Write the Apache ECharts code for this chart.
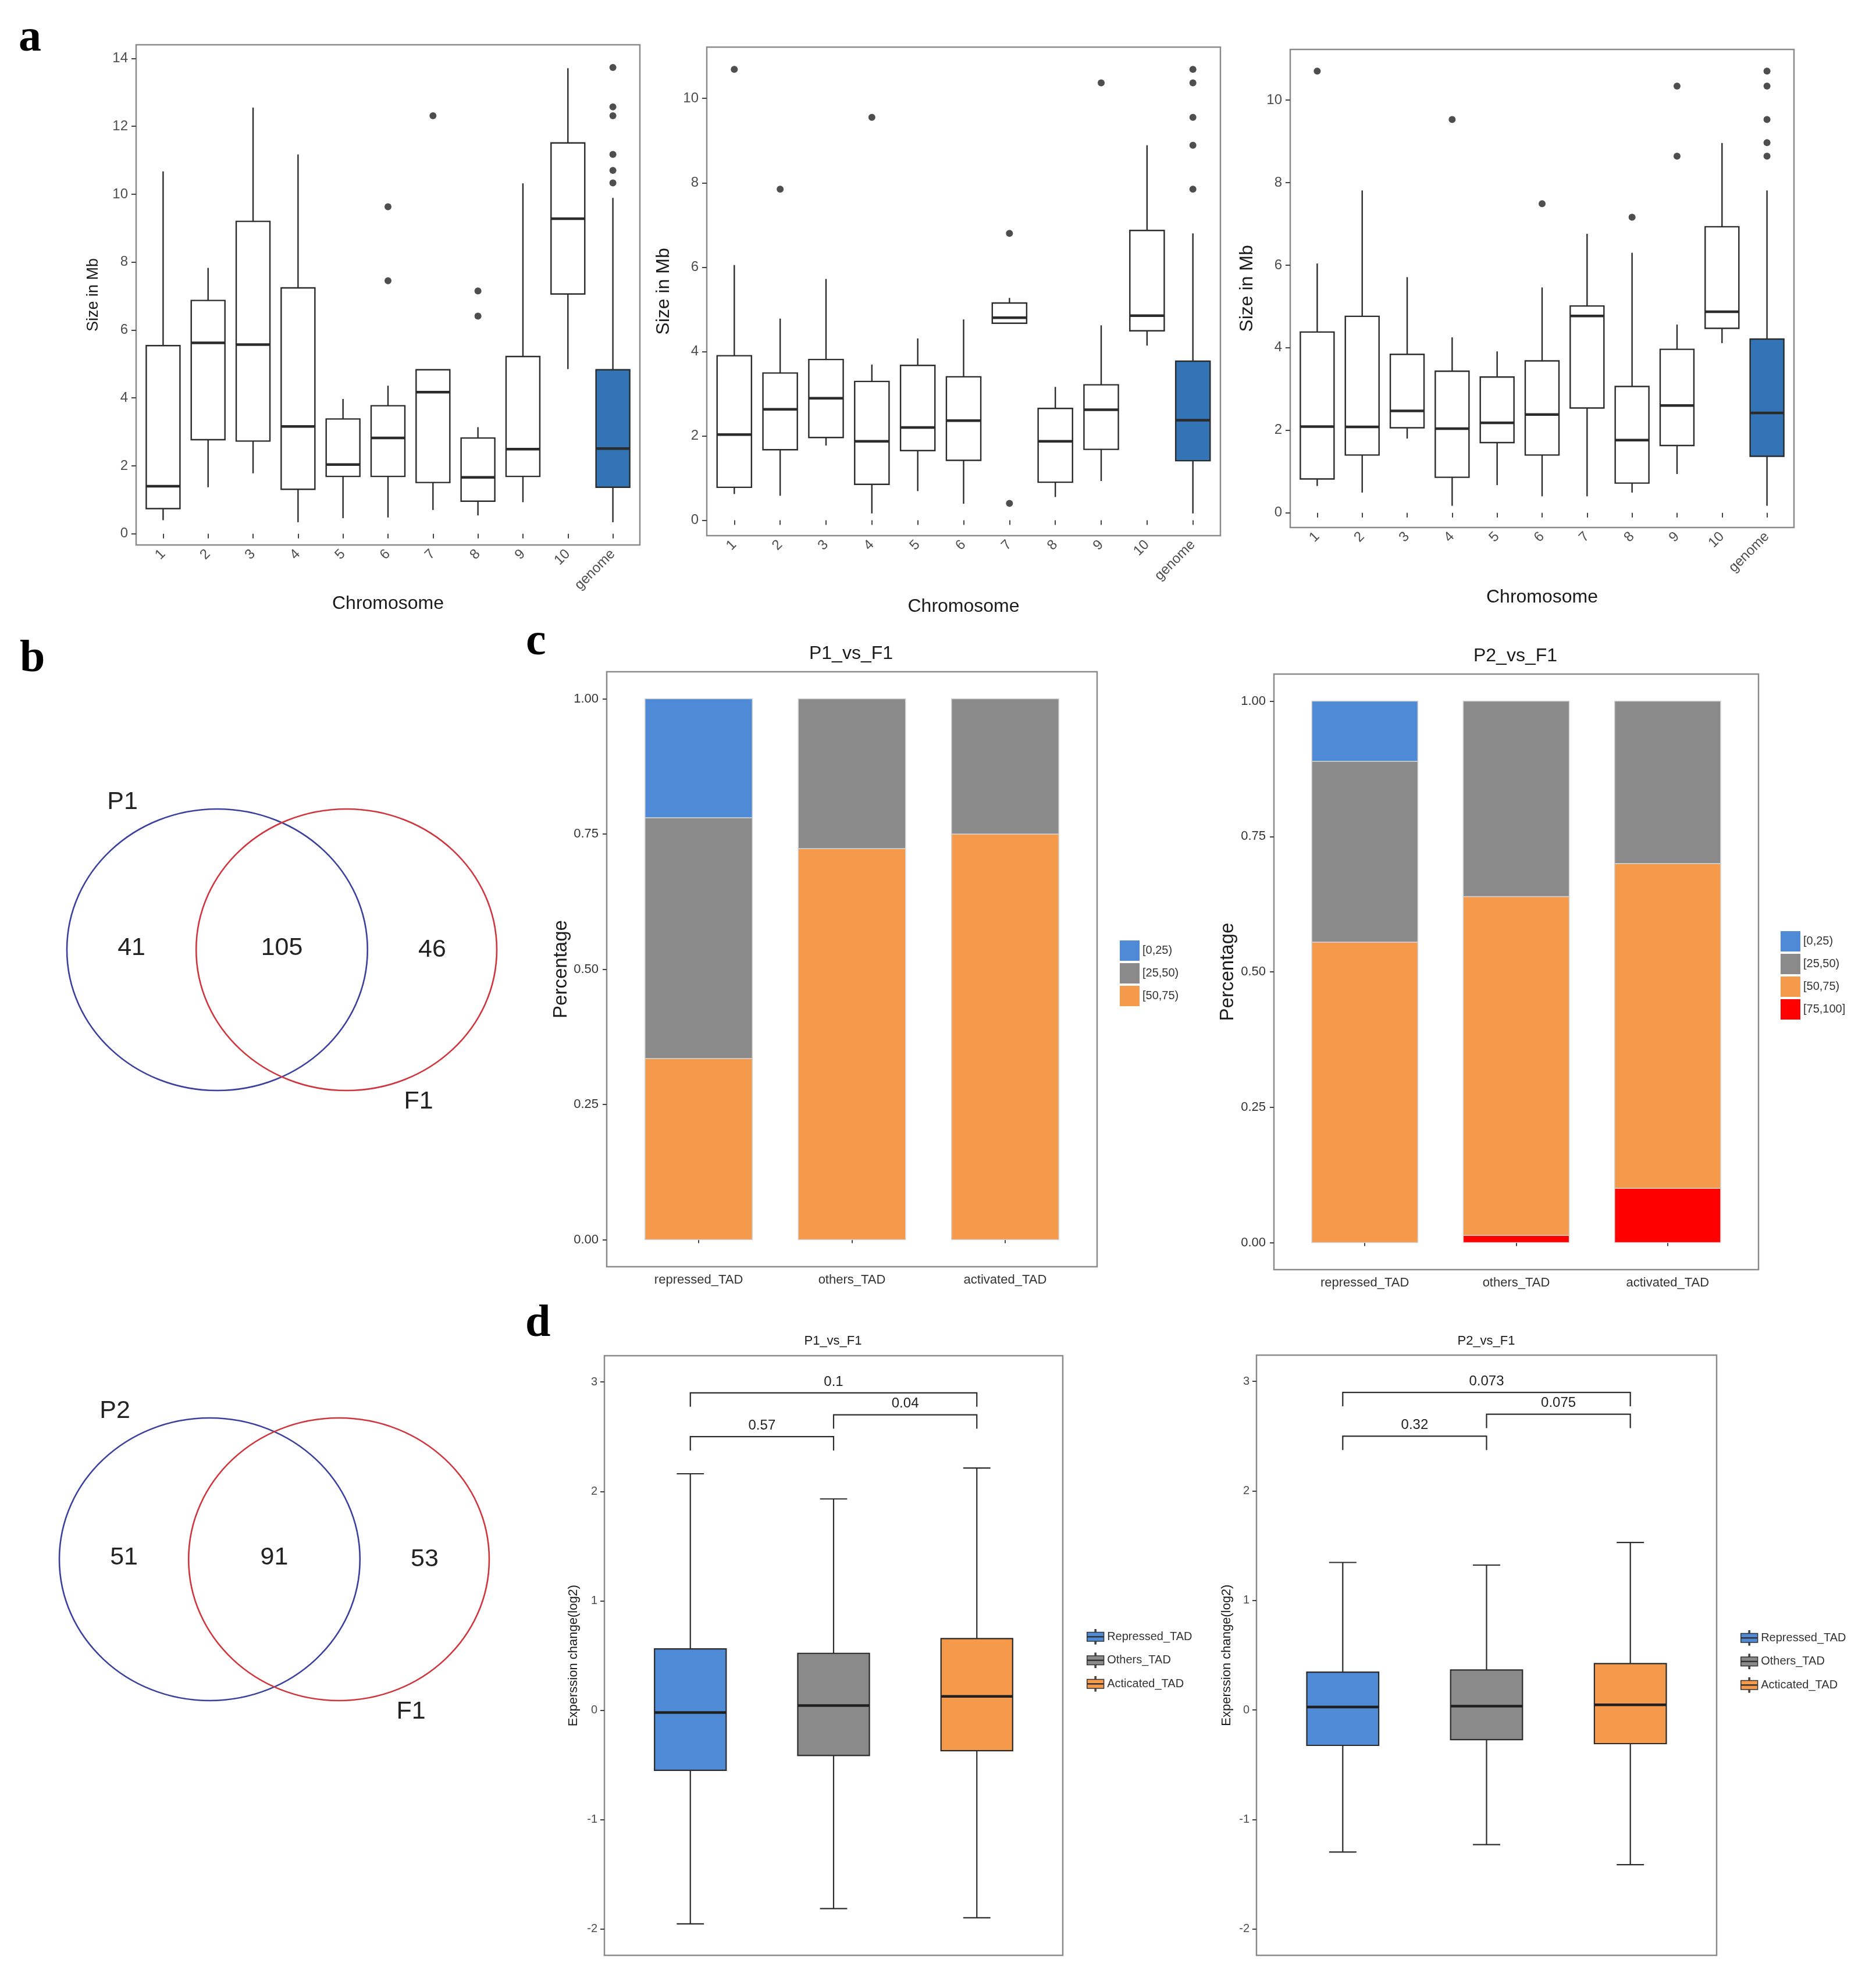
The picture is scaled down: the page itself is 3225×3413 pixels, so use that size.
<!DOCTYPE html>
<html><head><meta charset="utf-8">
<script src="https://cdn.jsdelivr.net/npm/echarts@6/dist/echarts.min.js"></script>
<style>html,body{margin:0;padding:0;background:#fff}#c{width:3225px;height:3413px}</style>
</head><body><div id="c"></div>
<script>
// ---------------- DATA ----------------
const chrCats = ['1','2','3','4','5','6','7','8','9','10','genome'];
// box stats per chromosome: [lower whisker, Q1, median, Q3, upper whisker]
const a1Box = [[0.40,0.74,1.40,5.54,10.67],[1.37,2.77,5.62,6.87,7.83],[1.78,2.73,5.57,9.20,12.55],[0.34,1.31,3.16,7.24,11.17],
  [0.46,1.69,2.04,3.38,3.97],[0.48,1.69,2.82,3.77,4.36],[0.70,1.51,4.17,4.83,4.83],[0.54,0.96,1.66,2.82,3.14],
  [0.93,1.69,2.49,5.22,10.32],[4.85,7.06,9.28,11.51,13.71],[0.34,1.37,2.51,4.83,9.89]];
const a1Out = [['6',9.63],['6',7.45],['7',12.31],['8',7.15],['8',6.41],['genome',13.73],['genome',12.57],['genome',12.31],['genome',11.17],['genome',10.70],['genome',10.33]];
const a2Box = [[0.62,0.78,2.03,3.90,6.05],[0.58,1.67,2.63,3.49,4.78],[1.77,1.96,2.89,3.81,5.72],[0.16,0.85,1.87,3.29,3.69],
  [0.69,1.65,2.20,3.67,4.31],[0.39,1.42,2.36,3.40,4.76],[4.67,4.67,4.80,5.15,5.27],[0.55,0.90,1.87,2.65,3.16],
  [0.93,1.68,2.62,3.21,4.62],[4.14,4.49,4.85,6.87,8.89],[0.16,1.41,2.37,3.77,6.80]];
const a2Out = [['1',10.69],['2',7.85],['4',9.55],['7',6.80],['7',0.40],['9',10.37],['genome',10.69],['genome',10.37],['genome',9.55],['genome',8.89],['genome',7.85]];
const a3Box = [[0.65,0.82,2.09,4.38,6.04],[0.49,1.40,2.08,4.76,7.81],[1.80,2.06,2.47,3.84,5.71],[0.17,0.86,2.04,3.43,4.25],
  [0.67,1.70,2.18,3.29,3.91],[0.40,1.40,2.38,3.68,5.46],[0.40,2.54,4.77,5.01,6.76],[0.49,0.72,1.76,3.06,6.30],
  [0.94,1.63,2.60,3.96,4.56],[4.11,4.47,4.87,6.93,8.96],[0.17,1.37,2.42,4.21,7.81]];
const a3Out = [['1',10.70],['4',9.53],['6',7.49],['8',7.16],['9',10.34],['9',8.64],['genome',10.70],['genome',10.34],['genome',9.53],['genome',8.97],['genome',8.64]];
const aYTicks1 = [0,2,4,6,8,10,12,14];
const aYTicks23 = [0,2,4,6,8,10];

const vennSets1 = ['P1','F1'];
const vennCounts1 = [41,105,46];
const vennSets2 = ['P2','F1'];
const vennCounts2 = [51,91,53];

const cCats = ['repressed_TAD','others_TAD','activated_TAD'];
const cLevels = ['[0,25)','[25,50)','[50,75)','[75,100]'];
const c1Bin0 = [0.220,0,0];
const c1Bin1 = [0.445,0.277,0.250];
const c1Bin2 = [0.335,0.723,0.750];
const c2Bin0 = [0.111,0,0];
const c2Bin1 = [0.334,0.361,0.300];
const c2Bin2 = [0.555,0.626,0.600];
const c2Bin3 = [0,0.013,0.100];
const cYTicks = [0,0.25,0.5,0.75,1];

const dCats = ['Repressed_TAD','Others_TAD','Acticated_TAD'];
const d1Stats = [[-1.952,-0.549,-0.021,0.560,2.161],[-1.813,-0.414,0.043,0.520,1.931],[-1.897,-0.370,0.126,0.655,2.213]];
const d2Stats = [[-1.297,-0.323,0.027,0.345,1.347],[-1.229,-0.271,0.035,0.365,1.323],[-1.412,-0.307,0.047,0.424,1.529]];
const dPairs = [[1,2],[2,3],[1,3]];
const d1PVals = ['0.57','0.04','0.1'];
const d2PVals = ['0.32','0.075','0.073'];
const dYTicks = [-2,-1,0,1,2,3];

// ---------------- STYLE ----------------
const FONT = '"Liberation Sans", Arial, sans-serif';
const GENOME_BLUE = '#3274B5';
const binColors = ['#4F8AD6','#8A8A8A','#F5994A','#FF0000'];
const dColors = ['#4F8AD6','#8A8A8A','#F5994A'];
const BORDER = '#8a8a8a';
const INK = '#2b2b2b';

const grids = [
  {left:234, top:77, width:866, height:860},    // a1
  {left:1215, top:81, width:883, height:840},   // a2
  {left:2218, top:85, width:866, height:822},   // a3
  {left:1043, top:1155, width:843, height:1023},// c1
  {left:2190, top:1159, width:833, height:1024},// c2
  {left:1039, top:2331, width:788, height:1031},// d1
  {left:2160, top:2330, width:791, height:1032},// d2
  {left:115, top:1391, width:739, height:484},  // venn1
  {left:102, top:2438, width:739, height:486}   // venn2
].map((g,i)=>Object.assign({show:i<7, borderColor:BORDER, borderWidth:2.5, backgroundColor:'transparent'}, g));

// ---------------- HELPERS ----------------
function yRange(stats, outs){
  const vals = stats.flat().concat(outs.map(o=>o[1]));
  const lo = Math.min(...vals), hi = Math.max(...vals), pad = (hi-lo)*0.05;
  return [lo-pad, hi+pad];
}
const chrTicks = chrCats.map((c,i)=>i+1);
function renderBoxA(params, api){
  const x=api.value(0), lo=api.value(1), q1=api.value(2), med=api.value(3), q3=api.value(4), hi=api.value(5);
  const hw=0.375;
  const pL=api.coord([x-hw,q3]), pR=api.coord([x+hw,q1]);
  const xc=api.coord([x,lo])[0], ylo=api.coord([x,lo])[1], yhi=api.coord([x,hi])[1], ymed=api.coord([x,med])[1];
  const fill = chrCats[x-1]==='genome' ? GENOME_BLUE : '#ffffff';
  const st={stroke:INK, lineWidth:2.4};
  return {type:'group', children:[
    {type:'line', shape:{x1:xc,y1:yhi,x2:xc,y2:pL[1]}, style:st},
    {type:'line', shape:{x1:xc,y1:pR[1],x2:xc,y2:ylo}, style:st},
    {type:'rect', shape:{x:pL[0],y:pL[1],width:pR[0]-pL[0],height:pR[1]-pL[1]}, style:{fill:fill, stroke:INK, lineWidth:2.4}},
    {type:'line', shape:{x1:pL[0],y1:ymed,x2:pR[0],y2:ymed}, style:{stroke:INK, lineWidth:4.5}}
  ]};
}
function aX(gi, nameGap){
  return {gridIndex:gi, type:'value', min:0.4, max:11.6, splitLine:{show:false}, axisLine:{show:false},
    axisTick:{show:true, length:8, customValues:chrTicks, lineStyle:{color:'#444', width:2}},
    axisLabel:{customValues:chrTicks, formatter:v=>chrCats[Math.round(v)-1], rotate:45, fontSize:24, color:'#4D4D4D', margin:12, fontFamily:FONT},
    name:'Chromosome', nameLocation:'middle', nameGap:nameGap, nameTextStyle:{fontSize:32, color:'#1a1a1a', fontFamily:FONT}};
}
function aY(gi, range, ticks, nameSize, nameGap){
  return {gridIndex:gi, type:'value', min:range[0], max:range[1], splitLine:{show:false}, axisLine:{show:false},
    axisTick:{show:true, length:8, customValues:ticks, lineStyle:{color:'#444', width:2}},
    axisLabel:{customValues:ticks, fontSize:24, color:'#4D4D4D', margin:14, fontFamily:FONT},
    name:'Size in Mb', nameLocation:'middle', nameGap:nameGap, nameTextStyle:{fontSize:nameSize, color:'#1a1a1a', fontFamily:FONT}};
}
function aSeries(gi, stats, outs){
  return [
    {type:'custom', xAxisIndex:gi, yAxisIndex:gi, renderItem:renderBoxA, data:stats.map((s,i)=>[i+1].concat(s)), z:2},
    {type:'scatter', xAxisIndex:gi, yAxisIndex:gi, symbolSize:12, itemStyle:{color:'#222'}, z:3,
      data:outs.map(o=>[chrCats.indexOf(o[0])+1, o[1]])}
  ];
}
function renderBar(params, api){
  const x=api.value(0), b=api.value(1), t=api.value(2), hw=0.35;
  const p1=api.coord([x-hw,t]), p2=api.coord([x+hw,b]);
  return {type:'rect', shape:{x:p1[0],y:p1[1],width:p2[0]-p1[0],height:p2[1]-p1[1]},
    style:{fill:api.visual('color'), stroke:'#d2d2d2', lineWidth:1.5}};
}
function stackSeries(gi, bins){
  const base = cCats.map(()=>0);
  const out=[];
  for(let k=bins.length-1;k>=0;k--){
    const data=[];
    bins[k].forEach((v,i)=>{ if(v>0){ data.push([i+1, base[i], base[i]+v]); base[i]+=v; } });
    out.push({type:'custom', name:cLevels[k], xAxisIndex:gi, yAxisIndex:gi, itemStyle:{color:binColors[k]}, renderItem:renderBar, data});
  }
  return out;
}
function cX(gi){
  return {gridIndex:gi, type:'value', min:0.4, max:3.6, splitLine:{show:false}, axisLine:{show:false},
    axisTick:{show:true, length:6, customValues:[1,2,3], lineStyle:{color:'#444', width:2}},
    axisLabel:{customValues:[1,2,3], formatter:v=>cCats[Math.round(v)-1], fontSize:22, color:'#333', margin:12, fontFamily:FONT}};
}
function cY(gi, gap){
  return {gridIndex:gi, type:'value', min:-0.05, max:1.05, splitLine:{show:false}, axisLine:{show:false},
    axisTick:{show:true, length:7, customValues:cYTicks, lineStyle:{color:'#444', width:2}},
    axisLabel:{customValues:cYTicks, formatter:v=>v.toFixed(2), fontSize:22, color:'#333', margin:14, fontFamily:FONT},
    name:'Percentage', nameLocation:'middle', nameGap:gap, nameTextStyle:{fontSize:33, color:'#1a1a1a', fontFamily:FONT}};
}
function renderBoxD(params, api){
  const x=api.value(0), lo=api.value(1), q1=api.value(2), med=api.value(3), q3=api.value(4), hi=api.value(5);
  const hw=0.25, cw=0.095;
  const pL=api.coord([x-hw,q3]), pR=api.coord([x+hw,q1]);
  const xc=api.coord([x,lo])[0], ylo=api.coord([x,lo])[1], yhi=api.coord([x,hi])[1], ymed=api.coord([x,med])[1];
  const cl=api.coord([x-cw,lo])[0], cr=api.coord([x+cw,lo])[0];
  const st={stroke:INK, lineWidth:2.2};
  return {type:'group', children:[
    {type:'line', shape:{x1:xc,y1:yhi,x2:xc,y2:ylo}, style:st},
    {type:'line', shape:{x1:cl,y1:yhi,x2:cr,y2:yhi}, style:st},
    {type:'line', shape:{x1:cl,y1:ylo,x2:cr,y2:ylo}, style:st},
    {type:'rect', shape:{x:pL[0],y:pL[1],width:pR[0]-pL[0],height:pR[1]-pL[1]}, style:{fill:api.visual('color'), stroke:INK, lineWidth:2.2}},
    {type:'line', shape:{x1:pL[0],y1:ymed,x2:pR[0],y2:ymed}, style:{stroke:'#1f1f1f', lineWidth:4.5}}
  ]};
}
function dSeries(gi, stats, pvals){
  const s = stats.map((st,i)=>({type:'custom', name:dCats[i], xAxisIndex:gi, yAxisIndex:gi, itemStyle:{color:dColors[i]},
    renderItem:renderBoxD, data:[[i+1].concat(st)]}));
  // significance brackets, stacked above the boxes
  s.push({type:'custom', xAxisIndex:gi, yAxisIndex:gi, silent:true,
    data:dPairs.map((p,i)=>[p[0],p[1],i]),
    renderItem:function(params, api){
      const x1=api.value(0), x2=api.value(1), lvl=api.value(2);
      const y = 2.5 + 0.2*lvl, tip = 0.127;
      const a=api.coord([x1,y-tip]), b=api.coord([x1,y]), c=api.coord([x2,y]), d=api.coord([x2,y-tip]);
      const m=api.coord([(x1+x2)/2, y+0.1]);
      return {type:'group', children:[
        {type:'polyline', shape:{points:[a,b,c,d]}, style:{stroke:INK, lineWidth:2.2, fill:null}},
        {type:'text', x:m[0], y:m[1], style:{text:pvals[params.dataIndex], font:'24px '+FONT, fill:'#222', align:'center', verticalAlign:'middle'}}
      ]};
    }});
  return s;
}
function dX(gi){
  return {gridIndex:gi, type:'value', min:0.4, max:3.6, splitLine:{show:false}, axisLine:{show:false},
    axisTick:{show:true, length:9, customValues:[1,2,3], lineStyle:{color:'#444', width:2}},
    axisLabel:{show:false}};
}
function dY(gi, gap){
  return {gridIndex:gi, type:'value', min:-2.24, max:3.24, splitLine:{show:false}, axisLine:{show:false},
    axisTick:{show:true, length:7, customValues:dYTicks, lineStyle:{color:'#444', width:2}},
    axisLabel:{customValues:dYTicks, fontSize:20, color:'#4D4D4D', margin:12, fontFamily:FONT},
    name:'Experssion change(log2)', nameLocation:'middle', nameGap:gap, nameTextStyle:{fontSize:22, color:'#1a1a1a', fontFamily:FONT}};
}
function vennSeries(gi, sets, counts){
  return {type:'custom', xAxisIndex:gi, yAxisIndex:gi, silent:true, data:[[0,0]],
    renderItem:function(params, api){
      const sep=0.43;
      const cA=api.coord([-sep,0]), cB=api.coord([sep,0]);
      const r=api.size([1,1]);
      const t=(pos,txt)=>{const p=api.coord(pos); return {type:'text', x:p[0], y:p[1], style:{text:String(txt), font:'43px '+FONT, fill:'#222', align:'center', verticalAlign:'middle'}};};
      return {type:'group', children:[
        {type:'ellipse', shape:{cx:cA[0],cy:cA[1],rx:r[0],ry:r[1]}, style:{fill:null, stroke:'#3B3F9D', lineWidth:2.6}},
        {type:'ellipse', shape:{cx:cB[0],cy:cB[1],rx:r[0],ry:r[1]}, style:{fill:null, stroke:'#D0343C', lineWidth:2.6}},
        t([-1,0.01],counts[0]), t([0,0.01],counts[1]), t([1,0],counts[2]),
        t([-sep-0.63,1.05],sets[0]), t([sep+0.48,-1.08],sets[1])
      ]};
    }};
}
function hiddenAxis(gi, min, max){ return {gridIndex:gi, type:'value', min, max, show:false}; }

// ---------------- OPTION ----------------
const r1=yRange(a1Box,a1Out), r2=yRange(a2Box,a2Out), r3=yRange(a3Box,a3Out);
const legendBase = {orient:'vertical', padding:0, selectedMode:false, textStyle:{fontSize:20, color:'#333', fontFamily:FONT}};
const option = {
  animation:false,
  backgroundColor:'#ffffff',
  textStyle:{fontFamily:FONT},
  grid: grids,
  xAxis: [aX(0,80), aX(1,106), aX(2,104), cX(3), cX(4), dX(5), dX(6), hiddenAxis(7,-1.43,1.43), hiddenAxis(8,-1.43,1.43)],
  yAxis: [aY(0,r1,aYTicks1,27,60), aY(1,r2,aYTicks23,32,58), aY(2,r3,aYTicks23,32,58), cY(3,62), cY(4,63), dY(5,42), dY(6,40),
          hiddenAxis(7,-1,1), hiddenAxis(8,-1,1)],
  legend: [
    Object.assign({left:1925, top:1617, itemWidth:34, itemHeight:35, itemGap:4, icon:'rect', data:cLevels.slice(0,3)}, legendBase),
    Object.assign({left:3061, top:1601, itemWidth:34, itemHeight:35, itemGap:4, icon:'rect', data:cLevels.slice()}, legendBase),
    Object.assign({left:1868, top:2801, itemWidth:30, itemHeight:25, itemGap:14, data:dCats.slice(),
      icon:'path://M0,5H30V21H0ZM14,0H16V5H14ZM14,21H16V26H14ZM0,12.6H30V13.4H0Z', itemStyle:{borderColor:'#333', borderWidth:1.5}}, legendBase),
    Object.assign({left:2992, top:2803, itemWidth:30, itemHeight:25, itemGap:14, data:dCats.slice(),
      icon:'path://M0,5H30V21H0ZM14,0H16V5H14ZM14,21H16V26H14ZM0,12.6H30V13.4H0Z', itemStyle:{borderColor:'#333', borderWidth:1.5}}, legendBase)
  ],
  graphic: [
    {type:'text', x:32, y:67, style:{text:'a', font:'bold 78px "Liberation Serif", serif', fill:'#000', align:'left', verticalAlign:'middle'}},
    {type:'text', x:34, y:1134, style:{text:'b', font:'bold 78px "Liberation Serif", serif', fill:'#000', align:'left', verticalAlign:'middle'}},
    {type:'text', x:904, y:1105, style:{text:'c', font:'bold 78px "Liberation Serif", serif', fill:'#000', align:'left', verticalAlign:'middle'}},
    {type:'text', x:903, y:2277, style:{text:'d', font:'bold 78px "Liberation Serif", serif', fill:'#000', align:'left', verticalAlign:'middle'}},
    {type:'text', x:1463, y:1124, style:{text:'P1_vs_F1', font:'32px '+FONT, fill:'#1a1a1a', align:'center', verticalAlign:'middle'}},
    {type:'text', x:2605, y:1128, style:{text:'P2_vs_F1', font:'32px '+FONT, fill:'#1a1a1a', align:'center', verticalAlign:'middle'}},
    {type:'text', x:1432, y:2306, style:{text:'P1_vs_F1', font:'22px '+FONT, fill:'#1a1a1a', align:'center', verticalAlign:'middle'}},
    {type:'text', x:2555, y:2306, style:{text:'P2_vs_F1', font:'22px '+FONT, fill:'#1a1a1a', align:'center', verticalAlign:'middle'}}
  ],
  series: [].concat(
    aSeries(0,a1Box,a1Out), aSeries(1,a2Box,a2Out), aSeries(2,a3Box,a3Out),
    stackSeries(3,[c1Bin0,c1Bin1,c1Bin2]), stackSeries(4,[c2Bin0,c2Bin1,c2Bin2,c2Bin3]),
    dSeries(5,d1Stats,d1PVals), dSeries(6,d2Stats,d2PVals),
    [vennSeries(7,vennSets1,vennCounts1), vennSeries(8,vennSets2,vennCounts2)]
  )
};
const chart = echarts.init(document.getElementById('c'), null, {renderer:'canvas'});
chart.setOption(option);
</script></body></html>
